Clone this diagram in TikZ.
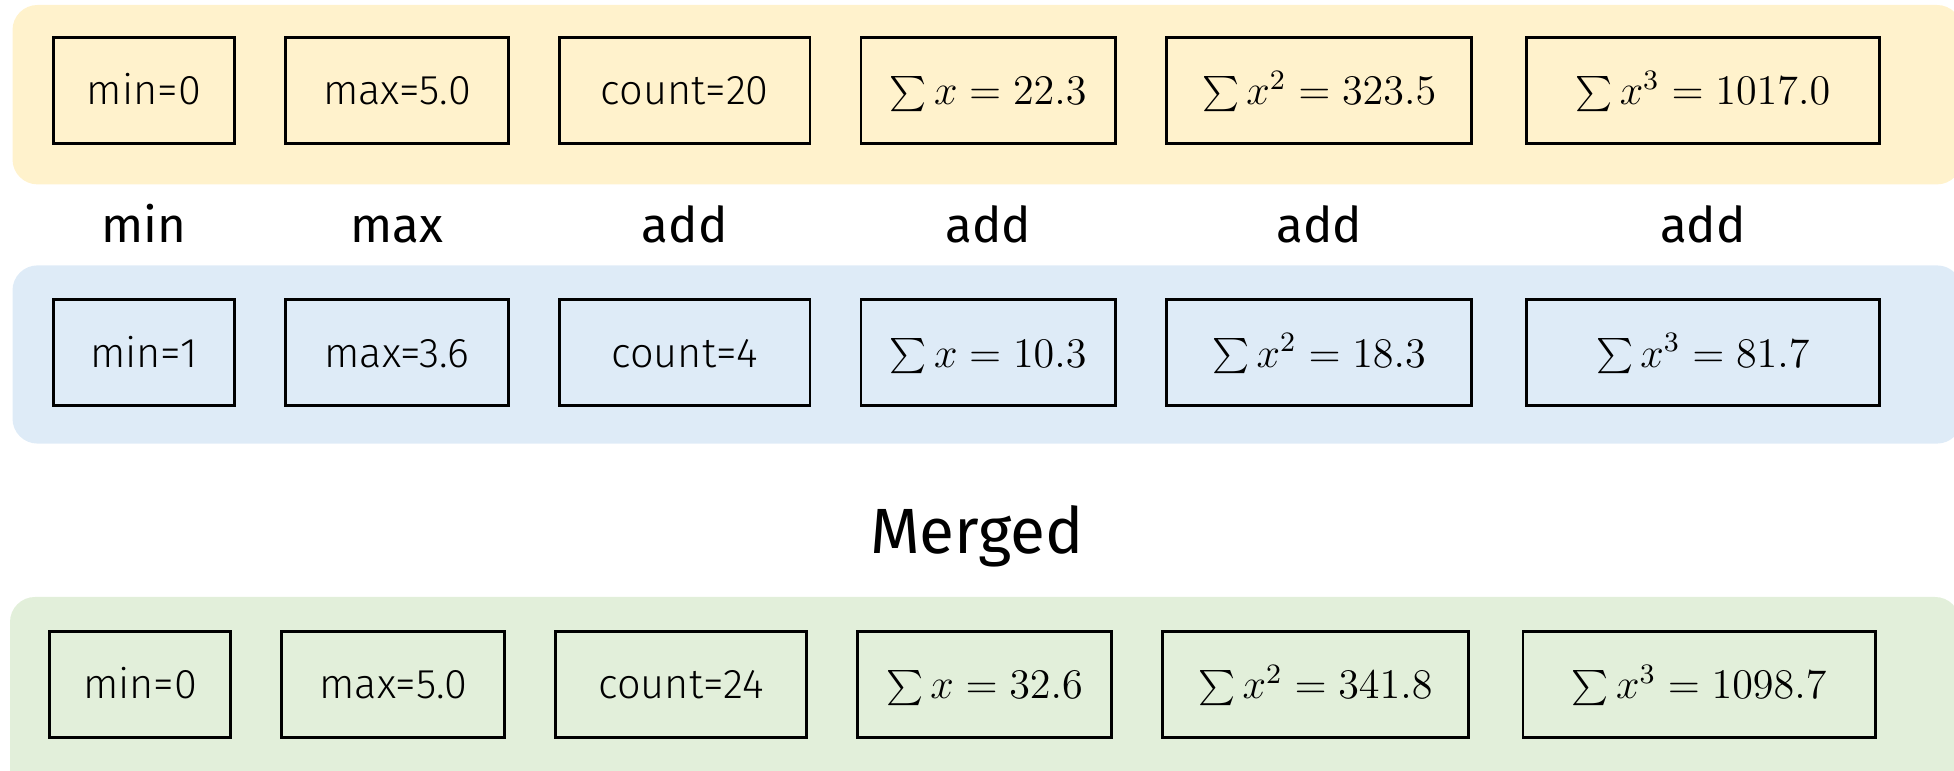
\documentclass[tikz,border=0pt]{standalone}
\usepackage{fontspec}
\setmainfont{Fira Sans}
\newfontfamily\duenn{Fira Sans Light}
\usepackage{tikz}
\usetikzlibrary{positioning, calc}
\definecolor{gelb}{HTML}{FFF2CC}
\definecolor{blau}{HTML}{DEEBF7}
\definecolor{gruen}{HTML}{E2EFDA}
\newcommand{\formel}[1]{{\fontsize{12}{14}\selectfont$#1$}}

\begin{document}
\begin{tikzpicture}[x=1cm, y=1cm,
			zelle/.style={draw, line width=0.8pt, inner sep=0pt, minimum height=1.06cm, text height=8.8pt, text depth=0.6pt, font=\duenn\fontsize{11.8}{14}\selectfont},
			op/.style={anchor=base, font=\fontsize{14}{17}\selectfont},
			band/.style={rounded corners=0.25cm}]
			%Bildbereich
			\useasboundingbox (0,0) rectangle (19.54,7.71);
			\clip (0,0) rectangle (19.54,7.71);
			%Hintergrund
			\fill[gelb, band] (0.125,5.866) rectangle (19.62,7.66);
			\fill[blau, band] (0.125,3.274) rectangle (19.62,5.056);
			\fill[gruen, band] (0.10,-0.30) rectangle (19.60,1.74);
			%Zustand A
			\foreach \n/\x/\w/\txt in {1/1.439/1.807/{min=0}, 2/3.970/2.230/{max=5.0}, 3/6.848/2.505/{count=20},
				4/9.882/2.543/{\formel{\sum x = 22.3}}, 5/13.192/3.053/{\formel{\sum x^2 = 323.5}}, 6/17.029/3.526/{\formel{\sum x^3 = 1017.0}}}
				\node[zelle, minimum width=\w cm] (a\n) at (\x,6.806) {\txt};
			%Operationen
			\foreach \n/\txt in {1/min, 2/max, 3/add, 4/add, 5/add, 6/add}
				\node[op] (o\n) at (a\n |- 0,5.28) {\txt};
			%Zustand B
			\foreach \n/\x/\w/\txt in {1/1.439/1.807/{min=1}, 2/3.970/2.230/{max=3.6}, 3/6.848/2.505/{count=4},
				4/9.882/2.543/{\formel{\sum x = 10.3}}, 5/13.192/3.053/{\formel{\sum x^2 = 18.3}}, 6/17.029/3.526/{\formel{\sum x^3 = 81.7}}}
				\node[zelle, minimum width=\w cm] (b\n) at (\x,4.183) {\txt};
			%Ergebnis
			\node[anchor=base, font=\fontsize{18.2}{22}\selectfont] (merged) at (9.77,2.177) {Merged};
			\foreach \n/\x/\w/\txt in {1/1.402/1.807/{min=0}, 2/3.933/2.230/{max=5.0}, 3/6.811/2.505/{count=24},
				4/9.845/2.543/{\formel{\sum x = 32.6}}, 5/13.155/3.053/{\formel{\sum x^2 = 341.8}}, 6/16.992/3.526/{\formel{\sum x^3 = 1098.7}}}
				\node[zelle, minimum width=\w cm] (c\n) at (\x,0.868) {\txt};
		\end{tikzpicture}
\end{document}
